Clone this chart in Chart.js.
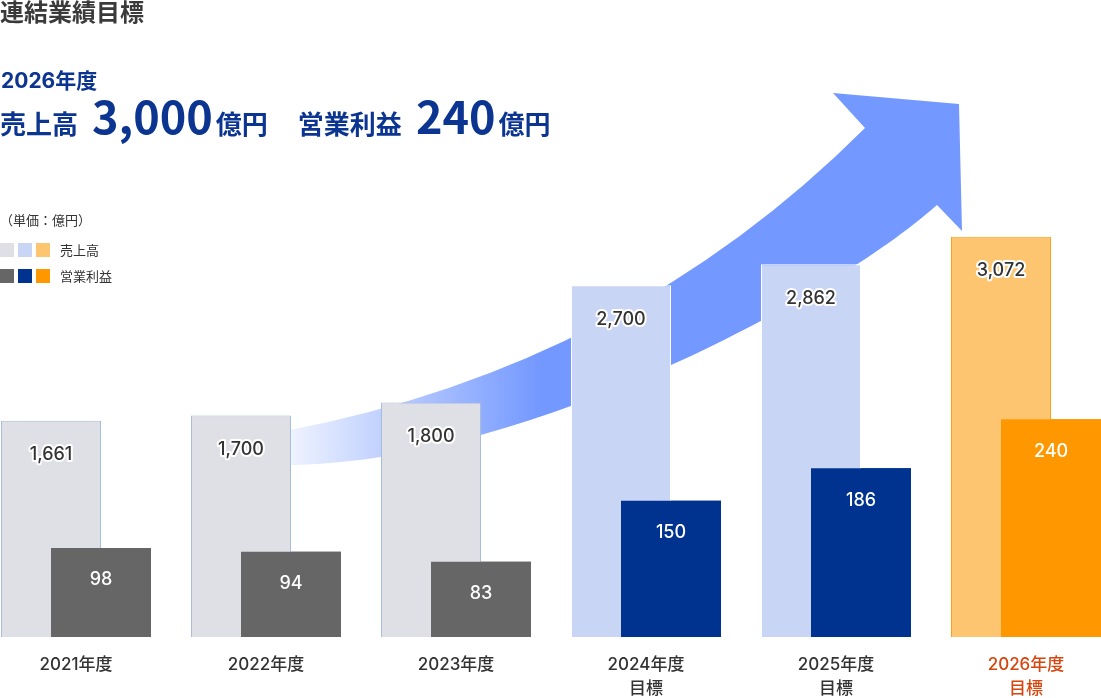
<!DOCTYPE html>
<html lang="ja">
<head>
<meta charset="utf-8">
<script src="https://cdn.jsdelivr.net/npm/chart.js@4"></script>
<style>
  body { margin: 0; background: #fff; font-family: "Noto Sans CJK JP", sans-serif; }
  #wrap { position: relative; width: 1101px; height: 698px; overflow: hidden; }
  #gyoseki { position: absolute; left: 0; top: 0; }
  .midashi { position: absolute; left: 0; top: -3px; font-size: 24px; font-weight: 700; color: #3a3a3a; line-height: 1.2; }
  .nendo { position: absolute; left: 1px; top: 68px; font-size: 21px; font-weight: 700; color: #0b3590; line-height: 1.2; font-family: Inter, "Noto Sans CJK JP", sans-serif; }
  .mokuhyo { position: absolute; left: 0; top: 88px; color: #0b3590; font-weight: 700; white-space: nowrap; line-height: 1.2; }
  .mokuhyo .ji { font-size: 26px; }
  .mokuhyo .kazu { font-size: 45px; }
  .tani { position: absolute; left: 0; top: 210px; font-size: 13px; color: #333; }
  .hanrei { position: absolute; left: 0; font-size: 13px; color: #333; height: 14px; }
  .hanrei i { position: absolute; top: 0; width: 14px; height: 14px; }
  .hanrei span { position: absolute; left: 60px; top: -3px; white-space: nowrap; }
</style>
</head>
<body>
<div id="wrap">
  <canvas id="gyoseki" width="1101" height="698"></canvas>
  <div class="midashi">連結業績目標</div>
  <div class="nendo">2026年度</div>
  <div class="mokuhyo"><span class="ji">売上高</span><span class="kazu" style="margin-left:14px">3,000</span><span class="ji" style="margin-left:3px">億円</span><span class="ji" style="margin-left:30px">営業利益</span><span class="kazu" style="margin-left:14px">240</span><span class="ji" style="margin-left:3px">億円</span></div>
  <div class="tani">（単価：億円）</div>
  <div class="hanrei" style="top:243px"><i style="left:0;background:#dfe0e5"></i><i style="left:18px;background:#c8d5f5"></i><i style="left:36px;background:#fdc56f"></i><span>売上高</span></div>
  <div class="hanrei" style="top:269px"><i style="left:0;background:#666666"></i><i style="left:18px;background:#00338f"></i><i style="left:36px;background:#ff9800"></i><span>営業利益</span></div>
</div>
<script>
const nendo = [
  ["2021年度"],
  ["2022年度"],
  ["2023年度"],
  ["2024年度", "目標"],
  ["2025年度", "目標"],
  ["2026年度", "目標"]
];
const uriage = [1661, 1700, 1800, 2700, 2862, 3072];
const rieki = [98, 94, 83, 150, 186, 240];

const uriageIro = ["#dfe0e5", "#dfe0e5", "#dfe0e5", "#c8d5f5", "#c8d5f5", "#fdc56f"];
const uriageWaku = ["#a8bcdb", "#a8bcdb", "#a8bcdb", "#ffffff", "#ffffff", "#f7a21b"];
const riekiIro = ["#666666", "#666666", "#666666", "#00338f", "#00338f", "#ff9800"];

const fontMei = 'Inter, "Noto Sans CJK JP", sans-serif';

// 右上がりの矢印（棒の後ろ）
const yajirushi = {
  id: "yajirushi",
  beforeDatasetsDraw(chart) {
    const ctx = chart.ctx;
    ctx.save();
    const g = ctx.createLinearGradient(291, 0, 540, 0);
    g.addColorStop(0, "rgba(115,152,255,0.12)");
    g.addColorStop(1, "rgba(115,152,255,1)");
    ctx.fillStyle = g;
    ctx.beginPath();
    ctx.moveTo(285, 431);
    ctx.quadraticCurveTo(627, 366, 865, 128);
    ctx.lineTo(833, 93);
    ctx.lineTo(959, 104);
    ctx.lineTo(962, 231);
    ctx.lineTo(937, 205);
    ctx.bezierCurveTo(830, 300, 520, 465, 285, 465);
    ctx.closePath();
    ctx.fill();
    ctx.restore();
  }
};

// 営業利益を手前に描き直して数値を入れる
const suuchi = {
  id: "suuchi",
  afterDatasetsDraw(chart) {
    const ctx = chart.ctx;
    const riekiMeta = chart.getDatasetMeta(1);
    riekiMeta.data.forEach(b => b.draw(ctx));
    ctx.save();
    ctx.font = "500 18px " + fontMei;
    ctx.textAlign = "center";
    ctx.textBaseline = "middle";
    ctx.lineJoin = "round";
    chart.getDatasetMeta(0).data.forEach((b, i) => {
      const t = uriage[i].toLocaleString("en-US");
      ctx.lineWidth = 4;
      ctx.strokeStyle = "#ffffff";
      ctx.strokeText(t, b.x, b.y + 34);
      ctx.fillStyle = "#333333";
      ctx.fillText(t, b.x, b.y + 34);
    });
    riekiMeta.data.forEach((b, i) => {
      ctx.fillStyle = "#ffffff";
      ctx.fillText(String(rieki[i]), b.x, b.y + 32);
    });
    ctx.restore();
  }
};

new Chart(document.getElementById("gyoseki"), {
  type: "bar",
  data: {
    labels: nendo,
    datasets: [
      {
        label: "売上高",
        data: uriage,
        yAxisID: "y",
        backgroundColor: uriageIro,
        borderColor: uriageWaku,
        borderWidth: 1,
        categoryPercentage: 100 / 190,
        barPercentage: 2,
        clip: false
      },
      {
        label: "営業利益",
        data: rieki,
        yAxisID: "y2",
        backgroundColor: riekiIro,
        borderWidth: 0,
        categoryPercentage: 100 / 190,
        barPercentage: 2,
        clip: false
      }
    ]
  },
  options: {
    responsive: false,
    animation: false,
    layout: { padding: { left: 76, right: 75, top: 116, bottom: 0 } },
    plugins: {
      legend: { display: false },
      tooltip: { enabled: false },
      title: { display: false }
    },
    scales: {
      x: {
        type: "category",
        offset: false,
        grid: { display: false, drawTicks: false },
        border: { display: false },
        ticks: {
          padding: 16,
          autoSkip: false,
          maxRotation: 0,
          font: { family: fontMei, size: 17, weight: 500, lineHeight: 1.4 },
          color: c => (c.index === 5 ? "#d6460e" : "#333333")
        },
        afterFit: s => { s.height = 61; }
      },
      y: { display: false, min: 0, max: 4000 },
      y2: { display: false, position: "right", min: 0, max: 574 }
    }
  },
  plugins: [yajirushi, suuchi]
});
</script>
</body>
</html>
